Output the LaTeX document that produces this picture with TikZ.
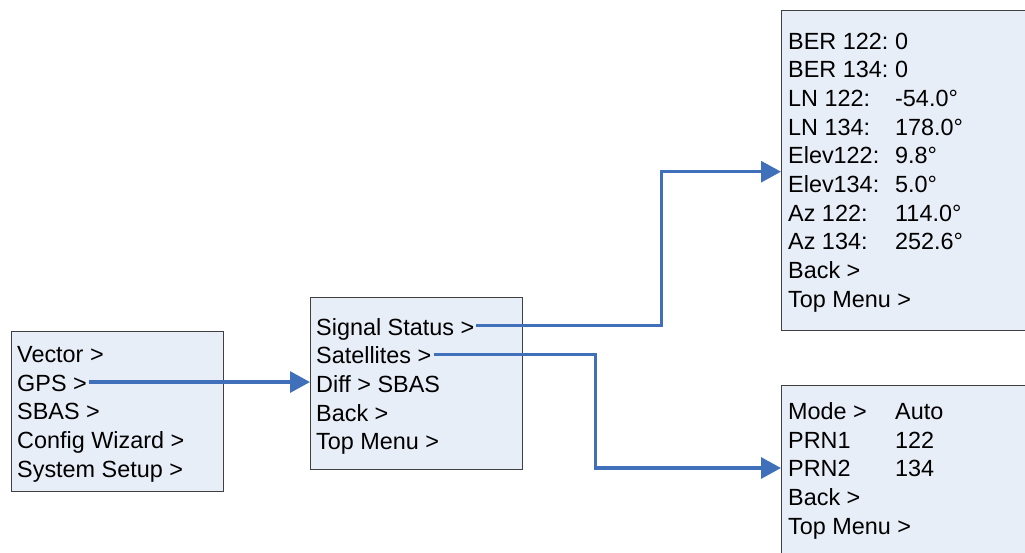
\documentclass[tikz,border=0pt]{standalone}
\usepackage{fontspec}
\setmainfont{Liberation Sans}
\usepackage{xcolor}
\definecolor{boxfill}{RGB}{232,238,247}
\definecolor{boxline}{gray}{0.25}
\definecolor{flowblue}{RGB}{64,112,186}
\usepackage{tikz}
\usetikzlibrary{positioning}
\usetikzlibrary{arrows.meta}

\begin{document}
\begin{tikzpicture}[x=1pt,y=-1pt,font=\fontsize{23.4pt}{28.3pt}\selectfont]
		\tikzset{>={Triangle[length=20pt,width=21pt]}}
		\tikzstyle{menubox}=[rectangle, draw=boxline, fill=boxfill, line width=1.2pt, anchor=north west, inner sep=0pt]
		\tikzstyle{item}=[inner ysep=0pt, inner xsep=2pt, text height=23.3pt, text depth=5pt, anchor=base west]
		\tikzstyle{flow}=[->, line width=3.2pt, color=flowblue]
		\clip (0,0) rectangle (1025,552);
		% menu boxes
		\node[menubox, minimum width=212, minimum height=160] (mmain) at (11,331) {};
		\node[menubox, minimum width=212, minimum height=172] (mgps) at (310,297) {};
		\node[menubox, minimum width=262, minimum height=320] (mstat) at (781,10) {};
		\node[menubox, minimum width=262, minimum height=185] (msat) at (781,385) {};
		% main menu
		\node[item] (n1) at (15,362.5) {Vector >};
		\node[item, below right=0pt and 0pt of n1.south west] (n2) {GPS >};
		\node[item, below right=0pt and 0pt of n2.south west] (n3) {SBAS >};
		\node[item, below right=0pt and 0pt of n3.south west] (n4) {Config Wizard >};
		\node[item, below right=0pt and 0pt of n4.south west] (n5) {System Setup >};
		% gps menu
		\node[item] (g1) at (314,335) {Signal Status >};
		\node[item, below right=0pt and 0pt of g1.south west] (g2) {Satellites >};
		\node[item, below right=0pt and 0pt of g2.south west] (g3) {Diff > SBAS};
		\node[item, below right=0pt and 0pt of g3.south west] (g4) {Back >};
		\node[item, below right=0pt and 0pt of g4.south west] (g5) {Top Menu >};
		% signal status
		\node[item] (s1) at (786,49) {\makebox[107pt][l]{BER 122:}0};
		\node[item, below right=0pt and 0pt of s1.south west] (s2) {\makebox[107pt][l]{BER 134:}0};
		\node[item, below right=0pt and 0pt of s2.south west] (s3) {\makebox[107pt][l]{LN 122:}-54.0°};
		\node[item, below right=0pt and 0pt of s3.south west] (s4) {\makebox[107pt][l]{LN 134:}178.0°};
		\node[item, below right=0pt and 0pt of s4.south west] (s5) {\makebox[107pt][l]{Elev122:}9.8°};
		\node[item, below right=0pt and 0pt of s5.south west] (s6) {\makebox[107pt][l]{Elev134:}5.0°};
		\node[item, below right=0pt and 0pt of s6.south west] (s7) {\makebox[107pt][l]{Az 122:}114.0°};
		\node[item, below right=0pt and 0pt of s7.south west] (s8) {\makebox[107pt][l]{Az 134:}252.6°};
		\node[item, below right=0pt and 0pt of s8.south west] (s9) {Back >};
		\node[item, below right=0pt and 0pt of s9.south west] (s10) {Top Menu >};
		% satellites
		\node[item] (p1) at (786,419.5) {\makebox[107pt][l]{Mode >}Auto};
		\node[item, below right=0pt and 0pt of p1.south west] (p2) {\makebox[107pt][l]{PRN1}122};
		\node[item, below right=0pt and 0pt of p2.south west] (p3) {\makebox[107pt][l]{PRN2}134};
		\node[item, below right=0pt and 0pt of p3.south west] (p4) {Back >};
		\node[item, below right=0pt and 0pt of p4.south west] (p5) {Top Menu >};
		% connectors
		\coordinate (upbend) at (661.5,171.7);
		\coordinate (downbend) at (595.5,468);
		\draw[flow] (n2.east) -- (n2.east -| mgps.west);
		\draw[flow] (g1.east) -| (upbend) -- (upbend -| mstat.west);
		\draw[flow] (g2.east) -| (downbend) -- (downbend -| msat.west);
	\end{tikzpicture}
\end{document}
